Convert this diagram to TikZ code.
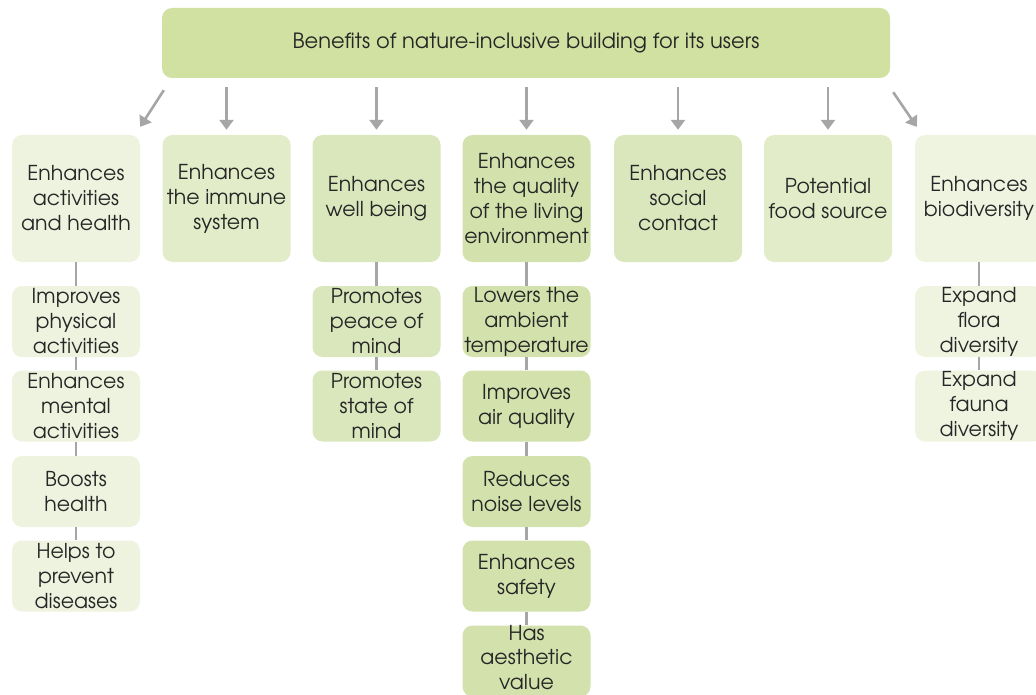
\documentclass[tikz,border=0pt]{standalone}
\usepackage{fontspec}
\setmainfont{TeX Gyre Adventor}
\usetikzlibrary{arrows.meta,calc}
\definecolor{ctop}{HTML}{D1E1A1}
\definecolor{cA}{HTML}{EEF3DF}
\definecolor{cB}{HTML}{E2ECC8}
\definecolor{cC}{HTML}{DAE7BC}
\definecolor{cD}{HTML}{D3E2AC}
\definecolor{cE}{HTML}{EFF4E1}
\definecolor{cline}{HTML}{A6A6A6}
\definecolor{ctext}{HTML}{262626}
\tikzset{
  bx/.style={rounded corners=10pt, inner sep=0pt, align=center, text=ctext,
    font=\fontsize{20.5}{25}\selectfont},
  lvone/.style={bx, minimum width=128pt, minimum height=127pt},
  kid/.style={bx, minimum width=128pt, minimum height=71pt},
  arr/.style={draw=cline, line width=2.6pt, -{Triangle[width=14pt,length=10pt]}},
  link/.style={draw=cline, line width=2.6pt},
}
\begin{document}
\begin{tikzpicture}[x=1pt,y=-1pt]
\useasboundingbox (0,0) rectangle (1036,695);
\node[bx, fill=ctop, minimum width=728pt, minimum height=70pt, font=\fontsize{21}{25}\selectfont] (top) at (526,43) {Benefits of nature-inclusive building for its users};
\node[lvone, fill=cA] (a) at (76,198.5) {Enhances\\activities\\and health};
\node[lvone, fill=cB] (b) at (226.5,198.5) {Enhances\\the immune\\system};
\node[lvone, fill=cC] (c) at (376.5,198.5) {Enhances\\well being};
\node[lvone, fill=cD] (d) at (526.5,198.5) {Enhances\\the quality\\of the living\\environment};
\node[lvone, fill=cC] (e) at (678,198.5) {Enhances\\social\\contact};
\node[lvone, fill=cB] (f) at (828,198.5) {Potential\\food source};
\node[lvone, fill=cE] (g) at (979,198.5) {Enhances\\biodiversity};
% children
\node[kid, fill=cA] (a1) at (76,321.5) {Improves\\physical\\activities};
\node[kid, fill=cA] (a2) at (76,406) {Enhances\\mental\\activities};
\node[kid, fill=cA] (a3) at (76,491.5) {Boosts\\health};
\node[kid, fill=cA] (a4) at (76,576) {Helps to\\prevent\\diseases};
\node[kid, fill=cC] (c1) at (376.5,321.5) {Promotes\\peace of\\mind};
\node[kid, fill=cC] (c2) at (376.5,406) {Promotes\\state of\\mind};
\node[kid, fill=cD] (d1) at (526.5,321.5) {Lowers the\\ambient\\temperature};
\node[kid, fill=cD] (d2) at (526.5,406) {Improves\\air quality};
\node[kid, fill=cD] (d3) at (526.5,491.5) {Reduces\\noise levels};
\node[kid, fill=cD] (d4) at (526.5,576) {Enhances\\safety};
\node[kid, fill=cD] (d5) at (526.5,661) {};
\node[bx, font=\fontsize{20.5}{24.5}\selectfont] (d5t) at (526.5,657.5) {Has\\aesthetic\\value};
\node[kid, fill=cE] (g1) at (979,321.5) {Expand\\flora\\diversity};
\node[kid, fill=cE] (g2) at (979,406) {Expand\\fauna\\diversity};
% arrows
\draw[arr] ($(top.south west)+(2,12)$) -- ($(a.north east)+(0,-8)$);
\foreach \n in {b,c,d,e,f}{
  \draw[arr, shorten <=9pt, shorten >=5pt] (top.south -| \n.north) -- (\n.north);
}
\draw[arr] ($(top.south east)+(3,14)$) -- ($(g.north west)+(2,-8)$);
% links
\draw[link] (a) -- (a1) (a1) -- (a2) (a2) -- (a3) (a3) -- (a4);
\draw[link] (c) -- (c1) (c1) -- (c2);
\draw[link] (d) -- (d1) (d1) -- (d2) (d2) -- (d3) (d3) -- (d4) (d4) -- (d5);
\draw[link] (g) -- (g1) (g1) -- (g2);
\end{tikzpicture}
\end{document}
